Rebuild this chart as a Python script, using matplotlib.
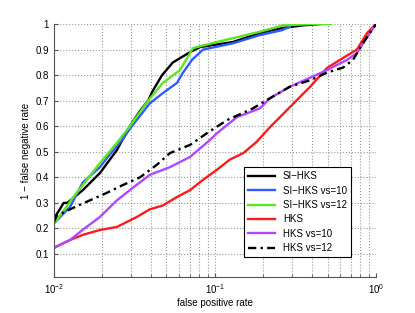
import matplotlib
matplotlib.use('Agg')
import matplotlib.pyplot as plt
import numpy as np

plt.rcParams['font.family'] = ['Liberation Sans', 'DejaVu Sans']
plt.rcParams['mathtext.fontset'] = 'custom'
plt.rcParams['mathtext.rm'] = 'Liberation Sans'

# curvas ROC (fpr, 1 - fnr)
si_hks_x = [0.01, 0.0105, 0.0115, 0.0121, 0.0151, 0.0193, 0.0246, 0.0296, 0.0342, 0.0384, 0.0412,
            0.0469, 0.0548, 0.07, 0.0807, 0.1294, 0.19, 0.264, 0.35, 0.45]
si_hks_y = [0.24, 0.26, 0.30, 0.30, 0.35, 0.417, 0.507, 0.60, 0.66, 0.70, 0.74,
            0.80, 0.85, 0.89, 0.91, 0.93, 0.965, 0.985, 0.995, 1.0]

si10_x = [0.01, 0.0102, 0.0126, 0.0151, 0.0193, 0.0216, 0.0268, 0.0296, 0.0394, 0.0475, 0.0581,
          0.0633, 0.072, 0.0842, 0.1294, 0.19, 0.26, 0.292]
si10_y = [0.22, 0.225, 0.285, 0.38, 0.44, 0.48, 0.55, 0.59, 0.69, 0.73, 0.77,
          0.81, 0.86, 0.90, 0.925, 0.957, 0.976, 0.99]

si12_x = [0.01, 0.0102, 0.0131, 0.016, 0.0193, 0.0246, 0.0296, 0.0384, 0.0475, 0.0606,
          0.067, 0.073, 0.1029, 0.19, 0.264, 0.4, 0.518]
si12_y = [0.22, 0.225, 0.32, 0.39, 0.456, 0.535, 0.60, 0.70, 0.77, 0.82,
          0.866, 0.906, 0.93, 0.97, 0.995, 1.0, 1.0]

hks_x = [0.01, 0.0102, 0.0126, 0.0151, 0.0193, 0.0246, 0.0327, 0.0394, 0.0475, 0.058, 0.07,
         0.0842, 0.1029, 0.124, 0.15, 0.182, 0.22, 0.292, 0.389, 0.496, 0.597, 0.76, 0.88, 1.0]
hks_y = [0.123, 0.127, 0.155, 0.175, 0.194, 0.206, 0.245, 0.275, 0.29, 0.323, 0.35,
         0.39, 0.43, 0.47, 0.495, 0.54, 0.597, 0.675, 0.754, 0.828, 0.86, 0.90, 0.965, 1.0]

hks10_x = [0.01, 0.0102, 0.0126, 0.0151, 0.0193, 0.0246, 0.031, 0.0394, 0.0525, 0.07, 0.093,
           0.1029, 0.137, 0.19, 0.22, 0.292, 0.389, 0.496, 0.66, 0.76, 0.86, 1.0]
hks10_y = [0.124, 0.127, 0.155, 0.195, 0.245, 0.31, 0.36, 0.41, 0.44, 0.48, 0.546,
           0.573, 0.636, 0.67, 0.71, 0.755, 0.79, 0.82, 0.86, 0.886, 0.94, 1.0]

hks12_x = [0.01, 0.0104, 0.0131, 0.0167, 0.0214, 0.0268, 0.0342, 0.0437, 0.0525, 0.07, 0.0892,
           0.1187, 0.172, 0.2197, 0.292, 0.389, 0.496, 0.625, 0.72, 0.83, 1.0]
hks12_y = [0.225, 0.25, 0.28, 0.31, 0.34, 0.37, 0.40, 0.45, 0.495, 0.527, 0.573,
           0.624, 0.67, 0.71, 0.755, 0.78, 0.81, 0.83, 0.86, 0.925, 1.0]

etiquetas = ['SI−HKS', 'SI−HKS vs=10', 'SI−HKS vs=12', 'HKS', 'HKS vs=10', 'HKS vs=12']

fig = plt.figure(figsize=(4.15, 3.13), dpi=100)
ax = fig.add_axes([0.13, 0.115, 0.776, 0.808])

lw = 1.7
ax.plot(si_hks_x, si_hks_y, color='black', lw=lw, label=etiquetas[0])
ax.plot(si10_x, si10_y, color='#2f5bff', lw=lw, label=etiquetas[1])
ax.plot(si12_x, si12_y, color='#5ae61e', lw=lw, label=etiquetas[2])
ax.plot(hks_x, hks_y, color='#ff1a1a', lw=lw, label=etiquetas[3])
ax.plot(hks10_x, hks10_y, color='#b046ff', lw=lw, label=etiquetas[4])
ax.plot(hks12_x, hks12_y, color='black', lw=lw, dashes=(3.5, 1.8, 1, 1.8), label=etiquetas[5])

ax.set_xscale('log')
ax.set_xlim(0.01, 1)
ax.set_ylim(0.01, 1)
ax.set_yticks(np.arange(0.1, 1.01, 0.1))
ax.set_yticklabels(['0.1', '0.2', '0.3', '0.4', '0.5', '0.6', '0.7', '0.8', '0.9', '1'])
ax.set_xticks([0.01, 0.1, 1])
ax.set_xticklabels(['$10^{-2}$', '$10^{-1}$', '$10^{0}$'])

ax.grid(True, which='major', ls=':', color='#999999', lw=0.8)
ax.grid(True, which='minor', axis='x', ls=':', color='#999999', lw=0.8)
ax.tick_params(direction='in', labelsize=7, length=3, color='#555555')
ax.tick_params(which='minor', direction='in', length=2, color='#555555')
for s in ['top', 'right']:
    ax.spines[s].set_visible(False)
for s in ['left', 'bottom']:
    ax.spines[s].set_color('#555555')

ax.set_xlabel('false positive rate', fontsize=7, labelpad=2)
ax.set_ylabel('1 − false negative rate', fontsize=7, labelpad=3)

leg = ax.legend(loc='lower right', bbox_to_anchor=(0.922, 0.079), borderaxespad=0, fontsize=7,
                fancybox=False, edgecolor='black', handlelength=2.8, borderpad=0.4,
                labelspacing=0.45, framealpha=1)
leg.get_frame().set_linewidth(0.8)

fig.savefig('out.png', dpi=100)
